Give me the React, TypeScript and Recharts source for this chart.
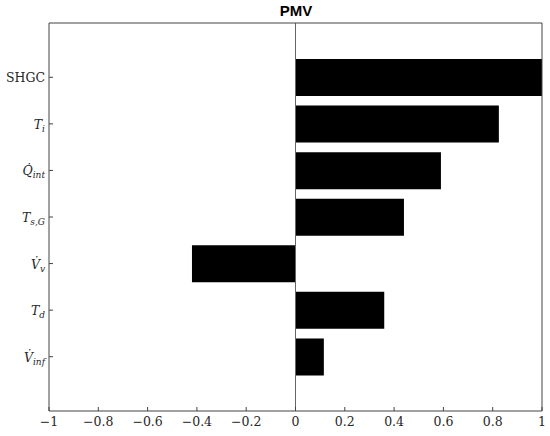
import React from 'react';
import { BarChart, Bar, XAxis, YAxis, ReferenceLine } from 'recharts';

const title = 'PMV';
const categories = ['SHGC', 'T_i', 'Q_int', 'T_sG', 'V_v', 'T_d', 'V_inf'];
const values = [1.0, 0.825, 0.59, 0.44, -0.42, 0.36, 0.115];
const xTicks = [-1, -0.8, -0.6, -0.4, -0.2, 0, 0.2, 0.4, 0.6, 0.8, 1];

type LabelPart = { base: string; italic: boolean; sub?: string };
const labelParts: Record<string, LabelPart> = {
  SHGC: { base: 'SHGC', italic: false },
  T_i: { base: 'T', italic: true, sub: 'i' },
  Q_int: { base: 'Q\u0307', italic: true, sub: 'int' },
  T_sG: { base: 'T', italic: true, sub: 's,G' },
  V_v: { base: 'V\u0307', italic: true, sub: 'v' },
  T_d: { base: 'T', italic: true, sub: 'd' },
  V_inf: { base: 'V\u0307', italic: true, sub: 'inf' },
};

const data = categories.map((c, i) => ({ name: c, value: values[i] }));

const SERIF = '"DejaVu Serif", "Liberation Serif", serif';
const AXIS = '#444444';

const YTick = (props: any) => {
  const { x, y, payload } = props;
  const p = labelParts[payload.value] || { base: String(payload.value), italic: false };
  return (
    <text x={x} y={y} dy={5} textAnchor="end" fontFamily={SERIF} fontSize={12.5} fill="#262626">
      <tspan fontStyle={p.italic ? 'italic' : 'normal'}>{p.base}</tspan>
      {p.sub ? (
        <tspan fontStyle="italic" fontSize={9} dy={3}>
          {p.sub}
        </tspan>
      ) : null}
    </text>
  );
};

const fmt = (v: number) => String(v).replace('-', '\u2212');

export default function App() {
  return (
    <div style={{ position: 'absolute', left: 0, top: 0, width: 550, height: 436, background: '#fff' }}>
      <div
        style={{
          position: 'absolute',
          left: 246,
          width: 100,
          top: 2,
          textAlign: 'center',
          fontFamily: '"Liberation Sans", Arial, sans-serif',
          fontWeight: 'bold',
          fontSize: 15,
          lineHeight: '17px',
          color: '#000',
        }}
      >
        {title}
      </div>
      <BarChart
        width={550}
        height={436}
        data={data}
        layout="vertical"
        margin={{ top: 22, right: 7, bottom: 0, left: 0 }}
        barSize={37}
      >
        <XAxis
          type="number"
          domain={[-1, 1]}
          ticks={xTicks}
          allowDataOverflow
          height={25}
          tickSize={-4}
          tickMargin={10}
          tickFormatter={fmt}
          stroke={AXIS}
          tick={{ fontFamily: SERIF, fontSize: 12.5, fill: '#262626' }}
          interval={0}
        />
        <XAxis
          xAxisId="top"
          orientation="top"
          type="number"
          domain={[-1, 1]}
          ticks={xTicks}
          allowDataOverflow
          height={1}
          tickSize={-4}
          tick={false}
          stroke={AXIS}
          interval={0}
        />
        <YAxis
          type="category"
          dataKey="name"
          width={49}
          padding={{ top: 31, bottom: 31 }}
          tickSize={-4}
          tickMargin={8}
          stroke={AXIS}
          tick={<YTick />}
          interval={0}
        />
        <YAxis
          yAxisId="right"
          orientation="right"
          type="category"
          dataKey="name"
          width={1}
          padding={{ top: 31, bottom: 31 }}
          tickSize={-4}
          tick={false}
          stroke={AXIS}
          interval={0}
        />
        <ReferenceLine x={0} stroke="#666666" strokeWidth={1} />
        <Bar dataKey="value" fill="#000000" isAnimationActive={false} />
      </BarChart>
    </div>
  );
}
